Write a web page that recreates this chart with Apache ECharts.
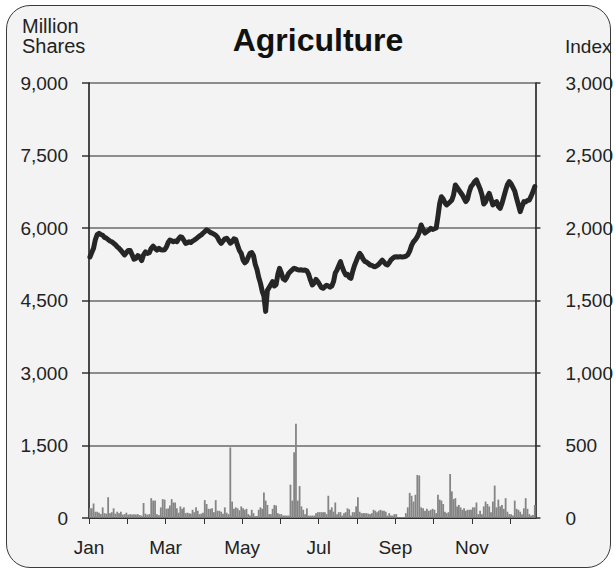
<!DOCTYPE html>
<html>
<head>
<meta charset="utf-8">
<script src="https://cdn.jsdelivr.net/npm/echarts@6/dist/echarts.min.js"></script>
<style>
  html, body { margin: 0; padding: 0; background: #ffffff; }
  #box { position: absolute; left: 6px; top: 5px; width: 603px; height: 561px;
         border: 1.5px solid #3a3a3a; border-radius: 24px; background: #f2f3f2; }
  #chart { position: absolute; left: 0; top: 0; width: 616px; height: 574px; }
</style>
</head>
<body>
<div id="box"></div>
<div id="chart"></div>
<script>
// Month names (axis labels) and trading days per month
const months = ['Jan','Feb','Mar','Apr','May','Jun','Jul','Aug','Sep','Oct','Nov','Dec'];
const tradingDays = [21,20,22,21,22,21,22,22,20,22,21,21];

// Index (right axis), daily, by month
const idx01 = [1800,1830,1860,1920,1955,1963,1955,1950,1935,1930,1920,1910,1905,1895,1885,1870,1860,1845,1830,1814,1830];
const idx02 = [1845,1845,1815,1785,1790,1810,1800,1775,1815,1835,1825,1830,1860,1875,1860,1848,1860,1850,1848,1850];
const idx03 = [1870,1900,1917,1912,1905,1910,1905,1925,1940,1935,1915,1894,1898,1905,1900,1910,1917,1925,1935,1945,1952,1965];
const idx04 = [1975,1988,1980,1970,1965,1958,1950,1935,1910,1894,1910,1925,1929,1915,1895,1905,1925,1920,1880,1845,1825];
const idx05 = [1780,1760,1770,1800,1825,1830,1810,1750,1715,1660,1620,1565,1530,1425,1570,1590,1610,1630,1600,1610,1680,1722];
const idx06 = [1690,1650,1641,1660,1687,1700,1712,1722,1718,1712,1710,1712,1708,1710,1705,1680,1640,1607,1620,1645,1630];
const idx07 = [1610,1590,1584,1595,1605,1600,1592,1600,1630,1690,1710,1740,1768,1730,1700,1676,1680,1660,1653,1700,1740,1770];
const idx08 = [1800,1825,1810,1785,1770,1765,1755,1745,1742,1735,1733,1740,1750,1765,1779,1765,1750,1745,1760,1780,1791,1800];
const idx09 = [1802,1800,1803,1800,1802,1805,1815,1840,1880,1905,1920,1940,1970,2021,1990,1965,1975,1985,1998,1990];
const idx10 = [1995,2000,2080,2170,2216,2200,2175,2159,2170,2180,2193,2230,2297,2280,2262,2245,2228,2205,2182,2200,2250,2285];
const idx11 = [2300,2320,2331,2300,2270,2230,2165,2180,2215,2239,2200,2159,2175,2182,2150,2136,2170,2215,2260,2300,2320];
const idx12 = [2305,2280,2255,2205,2160,2113,2150,2182,2180,2190,2193,2220,2250,2285];

// Volume in million shares (left axis), daily, by month
const vol01 = [200,200,300,130,130,110,80,220,100,90,430,100,120,200,90,130,100,130,70,80,110];
const vol02 = [70,80,70,80,70,80,60,50,310,90,70,80,410,360,360,80,60,220,390,380];
const vol03 = [190,200,260,390,320,320,200,110,240,190,220,100,110,100,90,170,120,220,150,80,90,110];
const vol04 = [370,290,190,190,200,120,370,150,150,130,90,220,110,80,1460,340,190,220,200,160,240];
const vol05 = [200,170,190,80,50,170,100,40,40,170,220,190,530,360,270,80,80,190,270,260,100,80];
const vol06 = [80,50,50,50,50,690,360,1360,1950,360,660,240,170,80,200,50,50,50,50,100,120];
const vol07 = [120,120,120,120,80,460,170,220,130,320,80,120,120,50,100,120,200,180,50,120,120,240];
const vol08 = [430,130,100,100,100,100,90,80,100,170,150,120,150,170,150,150,130,50,100,50,50,80];
const vol09 = [80,20,20,20,20,100,220,520,460,340,480,890,880,220,200,150,190,150,170,190];
const vol10 = [170,100,480,380,360,290,130,100,120,910,550,390,410,240,270,220,170,200,150,170,170,170];
const vol11 = [220,220,320,80,150,80,240,340,290,240,120,340,670,220,380,240,270,190,410,130,80];
const vol12 = [80,50,360,190,170,130,80,200,410,190,80,50,60,270];

const indexMonths = [idx01,idx02,idx03,idx04,idx05,idx06,idx07,idx08,idx09,idx10,idx11,idx12];
const volumeMonths = [vol01,vol02,vol03,vol04,vol05,vol06,vol07,vol08,vol09,vol10,vol11,vol12];

// place each trading day within its month (time position in month units)
function toPoints(byMonth) {
  const out = [];
  byMonth.forEach((arr, m) => {
    arr.forEach((v, k) => out.push([m + (k + 0.5) / tradingDays[m], v]));
  });
  return out;
}

const FONT = '"Liberation Sans", Arial, sans-serif';
const chart = echarts.init(document.getElementById('chart'), null, { renderer: 'svg' });
chart.setOption({
  animation: false,
  backgroundColor: 'transparent',
  textStyle: { fontFamily: FONT },
  grid: { left: 89, right: 80, top: 83, bottom: 56 },
  graphic: [
    { type: 'text', left: 22, top: 16, style: { text: 'Million\nShares', font: '20px ' + FONT, fill: '#222', lineHeight: 20 } },
    { type: 'text', left: 565, top: 37, style: { text: 'Index', font: '19px ' + FONT, fill: '#222' } },
    { type: 'text', x: 318, y: 40, style: { text: 'Agriculture', font: 'bold 32px ' + FONT, fill: '#111', textAlign: 'center', textVerticalAlign: 'middle' } }
  ],
  xAxis: {
    type: 'value', min: 0, max: 11.66, interval: 1,
    axisLine: { show: true, lineStyle: { color: '#111', width: 1.5 } },
    axisTick: { show: true, length: 6, lineStyle: { color: '#333', width: 1 } },
    splitLine: { show: false },
    axisLabel: {
      margin: 20, fontSize: 19, color: '#222', fontFamily: FONT,
      showMaxLabel: false,
      formatter: v => (Number.isInteger(v) && v % 2 === 0) ? months[v] : ''
    }
  },
  yAxis: [
    {
      type: 'value', position: 'left', min: 0, max: 9000, interval: 1500,
      axisLine: { show: true, lineStyle: { color: '#111', width: 1.5 } },
      axisTick: { show: true, length: 7, lineStyle: { color: '#333', width: 1.5 } },
      splitLine: { show: true, lineStyle: { color: '#8c8c8c', width: 2 } },
      axisLabel: { margin: 21, fontSize: 19, color: '#222', fontFamily: FONT,
                   formatter: v => v.toLocaleString('en-US') }
    },
    {
      type: 'value', position: 'right', min: 0, max: 3000, interval: 500,
      axisLine: { show: true, lineStyle: { color: '#111', width: 1.5 } },
      axisTick: { show: true, length: 5, lineStyle: { color: '#333', width: 1.5 } },
      splitLine: { show: false },
      axisLabel: { margin: 30, fontSize: 19, color: '#222', fontFamily: FONT,
                   formatter: v => v.toLocaleString('en-US') }
    }
  ],
  series: [
    {
      type: 'bar', yAxisIndex: 0, barWidth: 1.8,
      itemStyle: { color: '#858585' },
      data: toPoints(volumeMonths)
    },
    {
      type: 'line', yAxisIndex: 1, symbol: 'none',
      lineStyle: { color: '#262626', width: 5, join: 'round', cap: 'round' },
      data: toPoints(indexMonths)
    }
  ]
});
</script>
</body>
</html>
